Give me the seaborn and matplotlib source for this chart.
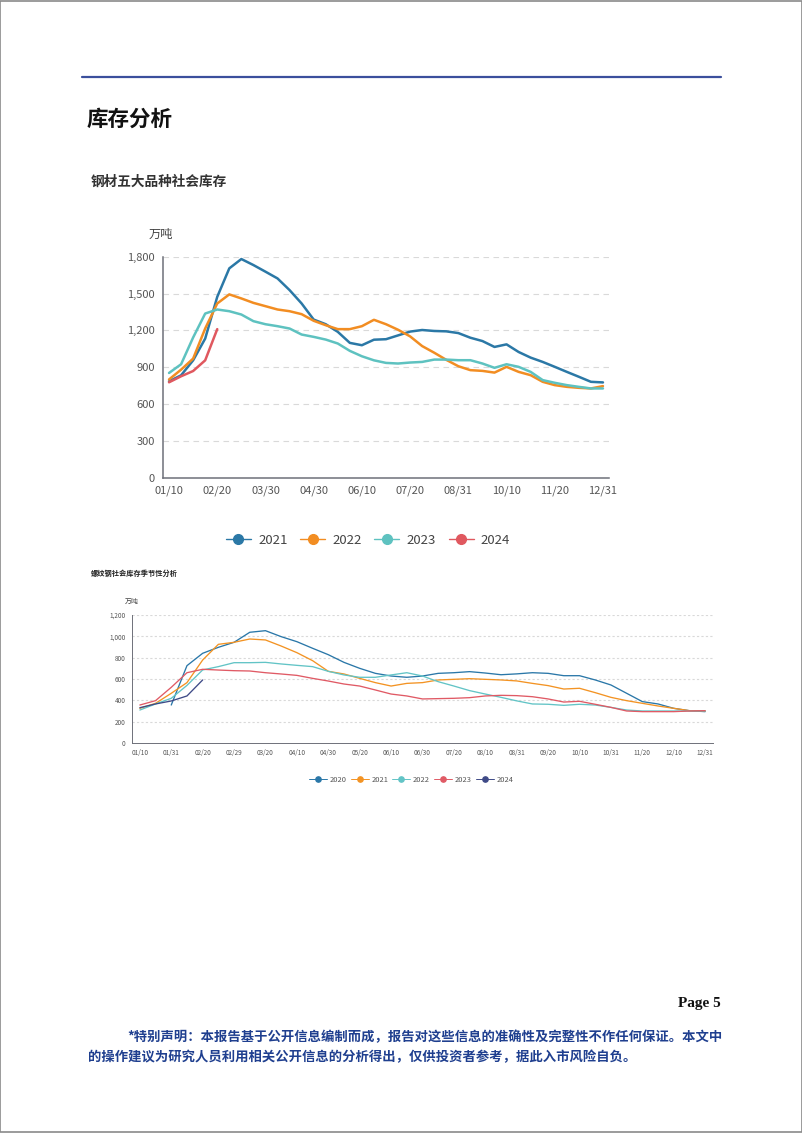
import numpy as np
import pandas as pd
import matplotlib
matplotlib.use("Agg")
import matplotlib.pyplot as plt
from matplotlib.lines import Line2D
from matplotlib.patches import Rectangle
import seaborn as sns

# ---------------- data ----------------
# Chart 1: 钢材五大品种社会库存 (万吨), 37 dekadal points per year
years_1 = ["2021", "2022", "2023", "2024"]
colors_1 = ["#2b78a6", "#f28d22", "#5ec2c0", "#e0585f"]
xticklabels_1 = ["01/10", "02/20", "03/30", "04/30", "06/10", "07/20",
                 "08/31", "10/10", "11/20", "12/31"]
label_step_1 = 4
stock_2021 = [785, 834, 956, 1133, 1473, 1705, 1781, 1732, 1678, 1623, 1528, 1419,
              1288, 1250, 1188, 1098, 1079, 1124, 1128, 1159, 1190, 1203, 1195, 1192,
              1178, 1140, 1113, 1065, 1086, 1024, 978, 943, 903, 862, 822, 781, 776]
stock_2022 = [800, 880, 970, 1215, 1419, 1493, 1460, 1424, 1397, 1370, 1356, 1332,
              1278, 1242, 1210, 1210, 1234, 1286, 1250, 1205, 1151, 1072, 1018, 960,
              908, 876, 870, 856, 903, 862, 835, 781, 754, 740, 732, 727, 746]
stock_2023 = [853, 924, 1142, 1337, 1370, 1356, 1329, 1275, 1250, 1234, 1215, 1166,
              1147, 1125, 1093, 1033, 989, 956, 935, 930, 938, 943, 962, 962,
              957, 957, 930, 895, 924, 903, 862, 795, 773, 754, 740, 727, 727]
stock_2024 = [777, 826, 869, 956, 1210]

# Chart 2: 螺纹钢社会库存季节性分析 (万吨)
years_2 = ["2020", "2021", "2022", "2023", "2024"]
colors_2 = ["#2a77a8", "#f39323", "#62c4c6", "#e05a65", "#3e4a87"]
xticklabels_2 = ["01/10", "01/31", "02/20", "02/29", "03/20", "04/10", "04/30",
                 "05/20", "06/10", "06/30", "07/20", "08/10", "08/31", "09/20",
                 "10/10", "10/31", "11/20", "12/10", "12/31"]
label_step_2 = 2
rebar_2020 = [np.nan, np.nan, 356, 725, 841, 897, 944, 1038, 1053, 997, 950, 888,
              828, 756, 700, 653, 628, 616, 628, 653, 659, 669, 656, 640,
              648, 659, 653, 631, 631, 591, 544, 466, 388, 366, 325, 303, 294]
rebar_2021 = [325, 372, 466, 566, 778, 925, 944, 975, 966, 909, 847, 772,
              672, 647, 606, 566, 534, 559, 566, 591, 597, 603, 597, 591,
              582, 559, 538, 506, 513, 472, 428, 397, 372, 347, 325, 303, 300]
rebar_2022 = [309, 366, 419, 540, 685, 716, 753, 753, 756, 741, 728, 716,
              672, 638, 616, 616, 638, 659, 628, 575, 534, 491, 459, 428,
              395, 366, 363, 353, 363, 356, 334, 309, 300, 300, 300, 300, 300]
rebar_2023 = [356, 397, 522, 659, 691, 684, 678, 675, 659, 647, 634, 606,
              581, 553, 534, 497, 459, 441, 413, 416, 419, 425, 441, 447,
              444, 434, 413, 384, 391, 363, 334, 300, 294, 294, 294, 300, 303]
rebar_2024 = [331, 366, 394, 441, 591]

series_1 = [stock_2021, stock_2022, stock_2023, stock_2024]
series_2 = [rebar_2020, rebar_2021, rebar_2022, rebar_2023, rebar_2024]


def long_frame(series, years):
    rows = []
    for yr, vals in zip(years, series):
        for i, v in enumerate(vals):
            if not (isinstance(v, float) and np.isnan(v)):
                rows.append({"x": i, "value": v, "year": yr})
    return pd.DataFrame(rows)


df1 = long_frame(series_1, years_1)
df2 = long_frame(series_2, years_2)

# ---------------- figure ----------------
sns.set_theme(style="white")
plt.rcParams["font.family"] = ["Noto Sans CJK SC", "DejaVu Sans"]
plt.rcParams["axes.unicode_minus"] = False

W, H = 802, 1133
fig = plt.figure(figsize=(W / 100, H / 100), dpi=100)
fig.patch.set_facecolor("white")


def rect(l, t, r, b):
    return [l / W, 1 - b / H, (r - l) / W, (b - t) / H]


def fx(x):
    return x / W


def fy(y):
    return 1 - y / H


# page border
fig.add_artist(Rectangle((0.0005, 0.0005), 0.999, 0.999, transform=fig.transFigure,
                         fill=False, edgecolor="#8a8a8a", linewidth=1.2))
# header rule
fig.add_artist(Line2D([fx(82), fx(721)], [fy(77), fy(77)], transform=fig.transFigure,
                      color="#3b4f9c", linewidth=1.6))

fig.text(fx(87), fy(119), "库存分析", fontsize=15.5, fontweight="bold",
         color="#111111", va="center", ha="left")
fig.text(fx(91), fy(182), "钢材五大品种社会库存", fontsize=9.8, fontweight="bold",
         color="#333333", va="center", ha="left")
fig.text(fx(91), fy(573), "螺纹钢社会库存季节性分析", fontsize=5.2, fontweight="bold",
         color="#222222", va="center", ha="left")

axis_col = "#6e7079"
label_col = "#555555"


def style_axes(ax, n, step, labels, ymax, ystep, fs, tick_len, lw_axis, grid_ls):
    ax.set_xlim(-0.5, n - 0.5)
    ax.set_ylim(0, ymax)
    yt = np.arange(0, ymax + 1, ystep)
    ax.set_yticks(yt)
    ax.set_yticklabels([f"{int(v):,}" for v in yt], fontsize=fs, color=label_col)
    pos = np.arange(len(labels)) * step
    ax.set_xticks(pos)
    ax.set_xticklabels(labels, fontsize=fs, color=label_col)
    ax.set_xticks(np.arange(-0.5, n, step), minor=True)
    ax.tick_params(axis="x", which="major", length=0, pad=tick_len + 1.5)
    ax.tick_params(axis="x", which="minor", length=tick_len, width=lw_axis,
                   color=axis_col, direction="out")
    ax.tick_params(axis="y", which="major", length=tick_len, width=lw_axis,
                   color=axis_col, direction="out", pad=2)
    for s in ["top", "right"]:
        ax.spines[s].set_visible(False)
    for s in ["left", "bottom"]:
        ax.spines[s].set_color(axis_col)
        ax.spines[s].set_linewidth(lw_axis)
    for v in yt[1:]:
        ax.axhline(v, color="#d9d9d9", linewidth=0.8, linestyle=grid_ls, zorder=0)
    ax.set_xlabel("")
    ax.set_ylabel("")
    ax.set_facecolor("white")
    ax.grid(False)


# ---- chart 1 ----
ax1 = fig.add_axes(rect(163, 256.7, 609, 477.7))
sns.lineplot(data=df1, x="x", y="value", hue="year", hue_order=years_1,
             palette=dict(zip(years_1, colors_1)), linewidth=1.8, legend=False,
             errorbar=None, ax=ax1, zorder=3)
style_axes(ax1, len(stock_2021), label_step_1, xticklabels_1, 1800, 300,
           8, 4, 1.1, (0, (5, 4)))
fig.text(fx(161), fy(234), "万吨", fontsize=8.8, color="#444444",
         ha="center", va="center")

handles1 = [Line2D([], [], color=c, marker="o", markersize=7.0, linewidth=1.0)
            for c in colors_1]
fig.legend(handles1, years_1, loc="center", bbox_to_anchor=(fx(368), fy(540)),
           ncol=4, frameon=False, fontsize=9.5, handlelength=1.9,
           handletextpad=0.55, columnspacing=0.95, labelcolor="#444444")

# ---- chart 2 ----
ax2 = fig.add_axes(rect(132, 615, 713, 743))
sns.lineplot(data=df2, x="x", y="value", hue="year", hue_order=years_2,
             palette=dict(zip(years_2, colors_2)), linewidth=0.95, legend=False,
             errorbar=None, ax=ax2, zorder=3)
style_axes(ax2, len(rebar_2021), label_step_2, xticklabels_2, 1200, 200,
           4.6, 2.5, 0.7, (0, (2, 2)))
fig.text(fx(132), fy(602), "万吨", fontsize=5, color="#444444",
         ha="center", va="center")

handles2 = [Line2D([], [], color=c, marker="o", markersize=3.8, linewidth=0.7)
            for c in colors_2]
fig.legend(handles2, years_2, loc="center", bbox_to_anchor=(fx(411), fy(780)),
           ncol=5, frameon=False, fontsize=5.4, handlelength=2.4,
           handletextpad=0.35, columnspacing=0.55, labelcolor="#555555")

# ---- footer ----
fig.text(fx(721), fy(1004), "Page 5", fontsize=11, fontweight="bold",
         family=["Liberation Serif", "DejaVu Serif"], color="#111111",
         ha="right", va="center")
disc_col = "#1f3f8f"
fig.text(fx(127), fy(1037),
         "*特别声明：本报告基于公开信息编制而成，报告对这些信息的准确性及完整性不作任何保证。本文中",
         fontsize=9.6, fontweight="bold", color=disc_col, ha="left", va="center")
fig.text(fx(88), fy(1057),
         "的操作建议为研究人员利用相关公开信息的分析得出，仅供投资者参考，据此入市风险自负。",
         fontsize=9.6, fontweight="bold", color=disc_col, ha="left", va="center")

fig.savefig("out.png", dpi=100, facecolor="white")
